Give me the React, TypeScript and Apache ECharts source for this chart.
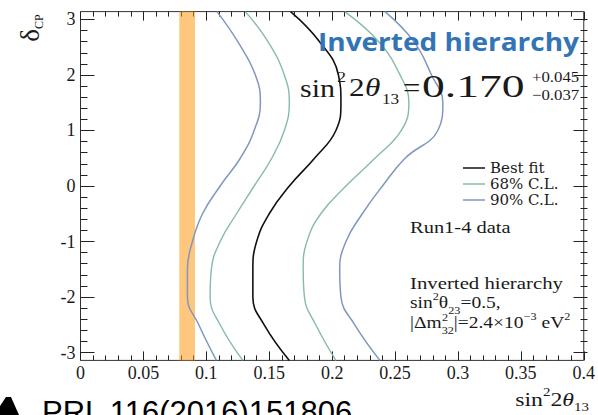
import React, { useEffect, useRef } from "react";
import * as echarts from "echarts";

// δCP values (radians) at which the contour boundaries are sampled
const DELTA_CP = [Math.PI, 2.6, 2.0, 1.5, 1.0, 0.5, 0.0, -0.5, -1.0, -1.5, -2.0, -2.5, -Math.PI];
// sin²2θ13 along each contour, one value per DELTA_CP entry
const BEST_FIT = [0.167, 0.19, 0.205, 0.207, 0.203, 0.186, 0.166, 0.15, 0.14, 0.137, 0.137, 0.146, 0.166];
const CL68_LOW = [0.131, 0.149, 0.162, 0.166, 0.162, 0.152, 0.138, 0.124, 0.111, 0.104, 0.103, 0.111, 0.129];
const CL68_HIGH = [0.21, 0.237, 0.254, 0.261, 0.255, 0.234, 0.211, 0.191, 0.18, 0.177, 0.178, 0.187, 0.203];
const CL90_LOW = [0.1085, 0.125, 0.139, 0.143, 0.138, 0.127, 0.111, 0.097, 0.089, 0.085, 0.085, 0.094, 0.108];
const CL90_HIGH = [0.242, 0.265, 0.279, 0.288, 0.284, 0.258, 0.24, 0.224, 0.211, 0.206, 0.207, 0.218, 0.238];
// reactor constraint on sin²2θ13
const REACTOR_BAND = [0.0785, 0.091];

// axis ranges
const X_MIN = 0;
const X_MAX = 0.4;
const X_STEP = 0.05;
const Y_MIN = -Math.PI;
const Y_MAX = Math.PI;
const Y_TICK_MIN = -3;
const Y_TICK_MAX = 3;

const LEGEND_NAMES = ["Best fit", "68% C.L.", "90% C.L."];

const W = 598;
const H = 415;
const PLOT = { left: 80.5, right: 587.5, top: 11.6, bottom: 360.4 };

const COLOR_BEST = "#111111";
const COLOR_68 = "#86bba6";
const COLOR_90 = "#8197c0";
const SERIF = "Liberation Serif";

type LabelOpts = {
  sx?: number;
  italic?: boolean;
  bold?: boolean;
  family?: string;
  color?: string;
  align?: string;
};

function label(text: string, x: number, y: number, size: number, o: LabelOpts = {}) {
  return {
    type: "text",
    x,
    y,
    scaleX: o.sx ?? 1,
    z: 100,
    silent: true,
    style: {
      text,
      fontFamily: o.family ?? SERIF,
      fontSize: size,
      fontStyle: o.italic ? "italic" : "normal",
      fontWeight: o.bold ? "bold" : "normal",
      fill: o.color ?? "#1a1a1a",
      align: o.align ?? "left",
      textAlign: o.align ?? "left",
      verticalAlign: "middle",
      textVerticalAlign: "middle",
    },
  };
}

function richLabel(text: string, x: number, y: number, size: number, sx: number, align = "left") {
  const base = { fontFamily: SERIF, fill: "#1a1a1a" };
  return {
    type: "text",
    x,
    y,
    scaleX: sx,
    z: 100,
    silent: true,
    style: {
      text,
      align,
      verticalAlign: "middle",
      rich: {
        m: { ...base, fontSize: size, lineHeight: size + 8, verticalAlign: "middle" },
        i: { ...base, fontSize: size, lineHeight: size + 8, fontStyle: "italic", verticalAlign: "middle" },
        sup: { ...base, fontSize: Math.round(size * 0.62), lineHeight: 10, verticalAlign: "top" },
        sub: { ...base, fontSize: Math.round(size * 0.62), lineHeight: 10, verticalAlign: "bottom" },
      },
    },
  };
}

const pairs = (xs: number[]) => DELTA_CP.map((d, i) => [xs[i], d]);

export default function App() {
  const ref = useRef<HTMLDivElement>(null);

  useEffect(() => {
    if (!ref.current) return;
    const chart = echarts.init(ref.current, undefined, { renderer: "svg" });

    const pxPerUnit = (PLOT.bottom - PLOT.top) / (Y_MAX - Y_MIN);
    const tickInset = (Y_MAX - Y_TICK_MAX) * pxPerUnit;
    const gridBase = { left: PLOT.left, right: W - PLOT.right };

    const axisTextStyle = { fontFamily: SERIF, fontSize: 18, color: "#1a1a1a" };
    const tickLine = { color: "#222", width: 1 };
    const noLine = { show: false, onZero: false };

    const contour = (name: string, xs: number[], color: string, width: number) => ({
      type: "line",
      name,
      data: pairs(xs),
      xAxisIndex: 0,
      yAxisIndex: 0,
      smooth: 0.45,
      showSymbol: false,
      symbol: "none",
      silent: true,
      z: 2,
      lineStyle: { color, width },
      itemStyle: { color },
    });

    const xTickAxis = (position: string, withLabels: boolean) => ({
      type: "value",
      gridIndex: 0,
      min: X_MIN,
      max: X_MAX,
      interval: X_STEP,
      position,
      axisLine: noLine,
      splitLine: { show: false },
      axisTick: { show: true, inside: true, length: 9, lineStyle: tickLine },
      minorTick: { show: true, splitNumber: 5, length: 5, lineStyle: tickLine },
      axisLabel: withLabels
        ? { ...axisTextStyle, margin: 4, formatter: (v: number) => String(Number(v.toFixed(2))) }
        : { show: false },
    });

    const yTickAxis = (position: string, withLabels: boolean) => ({
      type: "value",
      gridIndex: 1,
      min: Y_TICK_MIN,
      max: Y_TICK_MAX,
      interval: 1,
      position,
      axisLine: noLine,
      splitLine: { show: false },
      axisTick: { show: true, inside: true, length: 14, lineStyle: tickLine },
      minorTick: { show: true, splitNumber: 5, length: 7, lineStyle: tickLine },
      axisLabel: withLabels ? { ...axisTextStyle, margin: 5 } : { show: false },
    });

    chart.setOption({
      animation: false,
      backgroundColor: "#ffffff",
      grid: [
        {
          ...gridBase,
          top: PLOT.top,
          bottom: H - PLOT.bottom,
          show: true,
          borderColor: "#333",
          borderWidth: 1,
          backgroundColor: "transparent",
        },
        {
          ...gridBase,
          top: PLOT.top + tickInset,
          bottom: H - PLOT.bottom + tickInset,
          show: false,
        },
      ],
      xAxis: [
        xTickAxis("bottom", true),
        xTickAxis("top", false),
        { type: "value", gridIndex: 1, min: X_MIN, max: X_MAX, show: false, axisLine: noLine },
      ],
      yAxis: [
        { type: "value", gridIndex: 0, min: Y_MIN, max: Y_MAX, show: false, axisLine: noLine },
        yTickAxis("left", true),
        yTickAxis("right", false),
      ],
      legend: {
        data: LEGEND_NAMES,
        orient: "vertical",
        left: 458,
        top: 155,
        icon: "rect",
        itemWidth: 22,
        itemHeight: 1.5,
        itemGap: 0,
        selectedMode: false,
        textStyle: { fontFamily: "DejaVu Serif", fontSize: 15, color: "#1a1a1a", lineHeight: 16 },
      },
      series: [
        contour("90% C.L.", CL90_LOW, COLOR_90, 1.5),
        contour("68% C.L.", CL68_LOW, COLOR_68, 1.4),
        contour("Best fit", BEST_FIT, COLOR_BEST, 1.6),
        contour("68% C.L.", CL68_HIGH, COLOR_68, 1.4),
        contour("90% C.L.", CL90_HIGH, COLOR_90, 1.5),
        {
          // translucent reactor band laid over the contours
          type: "line",
          name: "Reactor",
          xAxisIndex: 0,
          yAxisIndex: 0,
          data: [
            [REACTOR_BAND[0], Y_MIN],
            [REACTOR_BAND[0], Y_MAX],
          ],
          showSymbol: false,
          symbol: "none",
          silent: true,
          z: 4,
          lineStyle: { opacity: 0 },
          markArea: {
            silent: true,
            itemStyle: { color: "rgba(255,150,10,0.53)" },
            data: [[{ xAxis: REACTOR_BAND[0] }, { xAxis: REACTOR_BAND[1] }]],
          },
        },
      ],
      graphic: [
        // y-axis title
        {
          type: "text",
          x: 30,
          y: 28,
          rotation: Math.PI / 2,
          z: 100,
          silent: true,
          style: {
            text: "{d|δ}{s|CP}",
            align: "center",
            verticalAlign: "middle",
            rich: {
              d: { fontFamily: SERIF, fontSize: 27, fill: "#1a1a1a", lineHeight: 30, verticalAlign: "middle" },
              s: { fontFamily: SERIF, fontSize: 12, fill: "#1a1a1a", lineHeight: 12, verticalAlign: "bottom" },
            },
          },
        },
        // x-axis title
        richLabel("{m|sin}{sup|2}{m|2}{i|θ}{sub|13}", 589, 400, 19, 1.25, "right"),
        // headline
        label("Inverted hierarchy", 579, 42, 25, { family: "Open Sans", bold: true, color: "#3274b6", align: "right", sx: 1.12 }),
        // measured value
        label("sin", 300, 88, 25, { sx: 1.2 }),
        label("2", 337, 77, 15, { sx: 1.2 }),
        label("2", 349, 88, 25, { sx: 1.25 }),
        label("θ", 365, 88, 25, { sx: 1.25, italic: true }),
        label("13", 382, 99, 15, { sx: 1.15 }),
        label("=", 403, 87, 28, { sx: 1.1 }),
        label("0.170", 422, 86, 31, { sx: 1.47 }),
        label("+0.045", 532, 77, 15, { sx: 1.12 }),
        label("\u22120.037", 532, 95, 15, { sx: 1.12 }),
        // data-set and assumption notes
        label("Run1-4 data", 410, 228, 16, { sx: 1.28 }),
        label("Inverted hierarchy", 410, 283, 16, { sx: 1.3 }),
        richLabel("{m|sin}{sup|2}{m|θ}{sub|23}{m|=0.5,}", 410, 303, 16, 1.22),
        richLabel("{m||Δm}{sub|32}{m||=2.4×10}{sup|−3}{m| eV}{sup|2}", 410, 323, 16, 1.22),
        label("2", 442, 317, 10, { sx: 1.22 }),
        // reference
        label("PRL 116(2016)151806", 42, 412, 31, { family: "Liberation Sans", color: "#000" }),
        {
          type: "polygon",
          z: 100,
          silent: true,
          shape: { points: [[0, 415], [0, 406], [6, 397], [11, 397], [19, 415]] },
          style: { fill: "#000" },
        },
      ],
    });

    return () => chart.dispose();
  }, []);

  return (
    <div
      ref={ref}
      style={{ position: "fixed", left: 0, top: 0, width: W, height: H, background: "#fff" }}
    />
  );
}
